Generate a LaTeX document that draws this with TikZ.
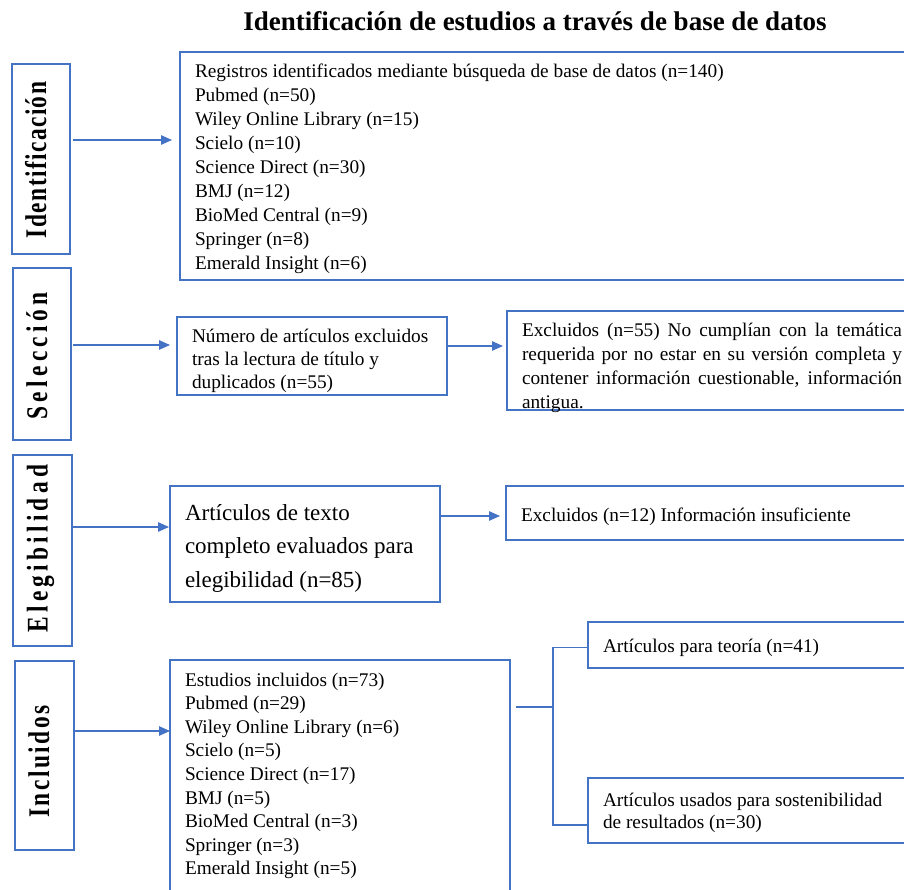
\documentclass[tikz,border=0pt]{standalone}
\usepackage{fontspec}
\usepackage{graphicx}
\setmainfont{Liberation Serif}
\usetikzlibrary{arrows.meta}
\definecolor{bblue}{RGB}{68,114,196}
\newlength\lspgap
\def\spreadit#1{#1\spreadrest}
\def\spreadrest#1{\ifx#1\relax\else\kern\lspgap#1\expandafter\spreadrest\fi}
\newcommand{\stagetext}[2]{\scalebox{0.78}[1]{\fontsize{30}{30}\selectfont\bfseries\setlength\lspgap{#1}\spreadit#2\relax}}
\newcommand{\bx}[4]{\parbox[t][#2][t]{#1}{\raggedright\rule{0pt}{#3}#4}}
\begin{document}
\begin{tikzpicture}[x=1pt,y=-1pt,
  box/.style={draw=bblue, line width=2pt, inner xsep=15pt, inner ysep=0pt, outer sep=0pt, anchor=north west, text=black},
  stagebox/.style={draw=bblue, line width=2pt, inner sep=0pt, outer sep=0pt},
  stagelabel/.style={rotate=90, anchor=base, inner sep=0pt},
  arr/.style={draw=bblue, line width=1.3pt, -{Triangle[length=11pt,width=9.5pt]}},
  link/.style={draw=bblue, line width=1.3pt}]
\useasboundingbox (0,0) rectangle (904,890);
\clip (0,0) rectangle (904,890);

\node[font=\fontsize{27}{30}\selectfont\bfseries, anchor=base, inner sep=0pt] (title) at (535,31) {Identificación de estudios a través de base de datos};

% stage boxes
\node[stagebox, minimum width=58pt, minimum height=190pt] (idb) at (41,159) {};
\node[stagebox, minimum width=58pt, minimum height=172pt] (selb) at (42,354) {};
\node[stagebox, minimum width=59pt, minimum height=191pt] (eleb) at (42.5,550.5) {};
\node[stagebox, minimum width=59pt, minimum height=189pt] (incb) at (44.5,755.5) {};

\node[stagelabel] (idt) at (46,160) {\stagetext{1.8pt}{Identificación}};
\node[stagelabel] (selt) at (47,356) {\stagetext{5.7pt}{Selección}};
\node[stagelabel] (elet) at (47.5,548.5) {\stagetext{5.4pt}{Elegibilidad}};
\node[stagelabel] (inct) at (49,761.5) {\stagetext{3.3pt}{Incluidos}};

% content boxes
\node[box, font=\fontsize{19.3}{23.9}\selectfont] (reg) at (180,52) {\bx{710pt}{228pt}{26pt}{Registros identificados mediante búsqueda de base de datos (n=140)\\
Pubmed (n=50)\\
Wiley Online Library (n=15)\\
Scielo (n=10)\\
Science Direct (n=30)\\
BMJ (n=12)\\
BioMed Central (n=9)\\
Springer (n=8)\\
Emerald Insight (n=6)}};

\node[box, font=\fontsize{19.3}{23}\selectfont] (num) at (177,317) {\bx{240pt}{78pt}{25pt}{Número de artículos excluidos\\
tras la lectura de título y\\
duplicados (n=55)}};

\node[box, font=\fontsize{19.3}{24}\selectfont] (exc1) at (507,311) {\bx{380pt}{99pt}{25pt}{\makebox[380pt][s]{Excluidos (n=55) No cumplían con la temática}\\
\makebox[380pt][s]{requerida por no estar en su versión completa y}\\
\makebox[380pt][s]{contener información cuestionable, información}\\
antigua.}};

\node[box, font=\fontsize{23}{33.5}\selectfont] (art) at (170,486) {\bx{240pt}{116pt}{34pt}{Artículos de texto\\
completo evaluados para\\
elegibilidad (n=85)}};

\node[box, font=\fontsize{19.3}{24}\selectfont] (exc2) at (506,486) {\bx{400pt}{54pt}{35pt}{Excluidos (n=12) Información insuficiente}};

\node[box, font=\fontsize{19.3}{24}\selectfont] (teo) at (588,622) {\bx{400pt}{46pt}{30pt}{Artículos para teoría (n=41)}};

\node[box, font=\fontsize{19.3}{22.5}\selectfont] (sos) at (588,778) {\bx{400pt}{65pt}{28pt}{Artículos usados para sostenibilidad\\
de resultados (n=30)}};

\node[box, font=\fontsize{19.3}{23.6}\selectfont] (est) at (170,660) {\bx{310pt}{250pt}{26pt}{Estudios incluidos (n=73)\\
Pubmed (n=29)\\
Wiley Online Library (n=6)\\
Scielo (n=5)\\
Science Direct (n=17)\\
BMJ (n=5)\\
BioMed Central (n=3)\\
Springer (n=3)\\
Emerald Insight (n=5)}};

% connectors
\coordinate (y1) at (0,140);
\coordinate (y2) at (0,345);
\coordinate (y3) at (0,346);
\coordinate (y4) at (0,527);
\coordinate (y5) at (0,516);
\coordinate (y6) at (0,731);
\coordinate (br) at (553,707);

\draw[arr, shorten <=3pt, shorten >=8pt] (idb.east |- y1) -- (reg.west |- y1);
\draw[arr, shorten <=2pt, shorten >=7pt] (selb.east |- y2) -- (num.west |- y2);
\draw[arr, shorten >=4pt] (num.east |- y3) -- (exc1.west |- y3);
\draw[arr, shorten <=1pt, shorten >=1pt] (eleb.east |- y4) -- (art.west |- y4);
\draw[arr, shorten >=6pt] (art.east |- y5) -- (exc2.west |- y5);
\draw[arr, shorten <=1pt] (incb.east |- y6) -- (est.west |- y6);

\draw[link] ([xshift=6pt]est.east |- br) -- (br);
\draw[link] (br) |- ([yshift=-2.7pt]teo.west);
\draw[link] (br) |- ([yshift=-14.5pt]sos.west);
\end{tikzpicture}
\end{document}
